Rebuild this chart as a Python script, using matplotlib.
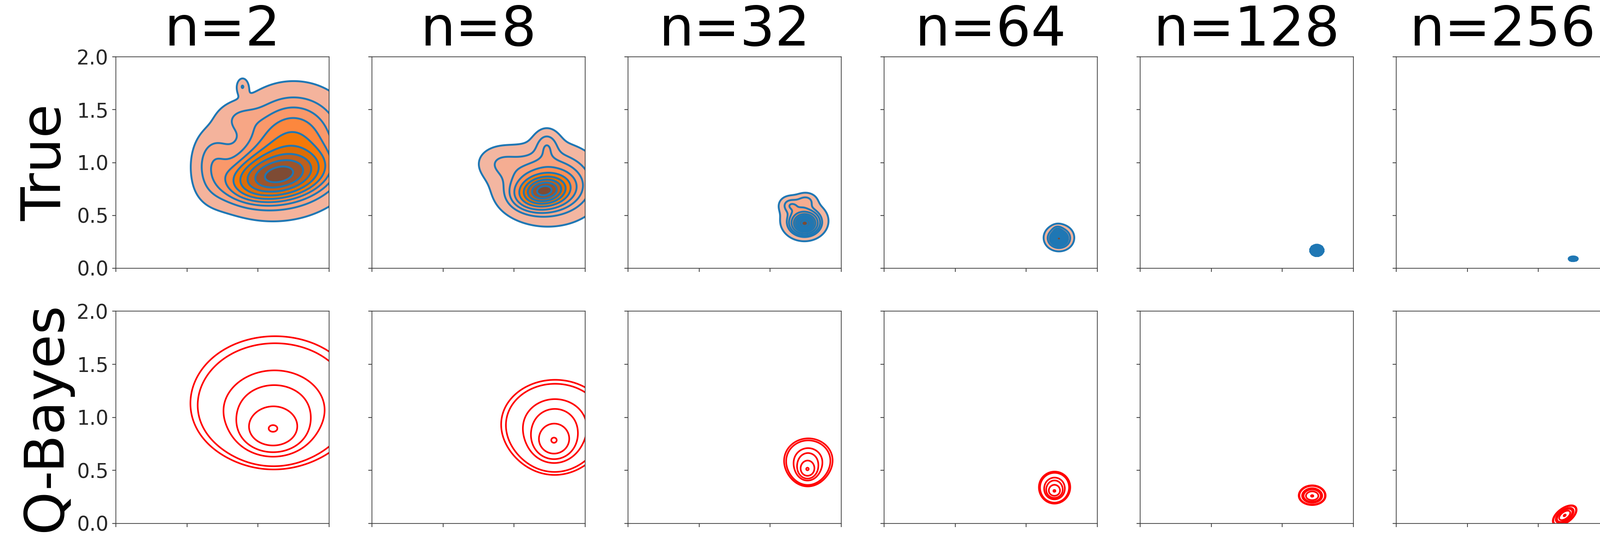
import numpy as np
import matplotlib
matplotlib.use("Agg")
import matplotlib.pyplot as plt
from matplotlib.colors import ListedColormap, to_rgb
from seaborn.external import husl

sizes = [2, 8, 32, 64, 128, 256]
row_names = ["True", "Q-Bayes"]
x_ticks = [0.0, 0.5, 1.0, 1.5]
y_ticks = [0.0, 0.5, 1.0, 1.5, 2.0]

# "True" row: gaussian pieces (panel index, centre, spread, corr, weight)
true_panel = [0, 0, 0, 0, 0, 0, 1, 1, 1, 1, 2, 2, 2, 2, 3, 3, 3, 4, 5]
true_cx = [1.13, 1.17, 1.25, 0.68, 0.86, 0.89, 1.21, 1.24, 0.90, 1.23, 1.243, 1.24, 1.14, 1.25, 1.23, 1.23, 1.22, 1.243, 1.245]
true_cy = [0.87, 0.92, 1.32, 1.00, 1.42, 1.72, 0.73, 0.80, 1.00, 1.17, 0.424, 0.45, 0.60, 0.64, 0.28, 0.29, 0.36, 0.169, 0.09]
true_sx = [0.19, 0.25, 0.22, 0.09, 0.10, 0.025, 0.10, 0.19, 0.10, 0.055, 0.045, 0.085, 0.045, 0.045, 0.030, 0.050, 0.02, 0.019, 0.013]
true_sy = [0.13, 0.23, 0.24, 0.20, 0.10, 0.05, 0.085, 0.19, 0.10, 0.09, 0.050, 0.095, 0.05, 0.045, 0.035, 0.060, 0.025, 0.022, 0.009]
true_rho = [0.3, 0.1, 0.0, 0.0, 0.0, 0.0, 0.15, 0.0, 0.0, 0.0, 0.0, 0.0, 0.0, 0.0, 0.0, 0.0, 0.0, 0.0, 0.0]
true_w = [0.30, 0.38, 0.25, 0.045, 0.015, 0.0025, 0.38, 0.45, 0.03, 0.022, 0.45, 0.35, 0.05, 0.04, 0.45, 0.50, 0.03, 1.0, 1.0]

# "Q-Bayes" row
qb_panel = [0, 0, 0, 1, 1, 1, 2, 2, 2, 3, 3, 3, 4, 4, 5]
qb_cx = [1.105, 1.11, 1.12, 1.28, 1.285, 1.29, 1.262, 1.264, 1.27, 1.198, 1.198, 1.20, 1.21, 1.21, 1.185]
qb_cy = [0.88, 1.02, 1.20, 0.775, 0.86, 0.95, 0.508, 0.55, 0.60, 0.303, 0.322, 0.35, 0.255, 0.27, 0.076]
qb_sx = [0.11, 0.21, 0.30, 0.068, 0.13, 0.19, 0.031, 0.058, 0.085, 0.025, 0.040, 0.050, 0.032, 0.036, 0.030]
qb_sy = [0.11, 0.20, 0.30, 0.085, 0.17, 0.20, 0.043, 0.085, 0.100, 0.030, 0.055, 0.065, 0.028, 0.036, 0.034]
qb_rho = [0.0, 0.0, 0.0, 0.0, 0.0, 0.0, 0.0, 0.0, 0.0, 0.0, 0.0, 0.0, 0.0, 0.0, 0.55]
qb_w = [0.30, 0.35, 0.35, 0.30, 0.35, 0.35, 0.30, 0.35, 0.35, 0.30, 0.35, 0.35, 0.5, 0.5, 1.0]

# contour levels: enclosed mass for the KDE row, fraction of the peak for Q-Bayes
true_mass = [0.95, 0.844, 0.733, 0.622, 0.511, 0.4, 0.289, 0.178, 0.067, 0.0]
qb_frac = [0.02, 0.03, 0.11, 0.2, 0.43, 0.97]


def density(k, pid, cx, cy, sx, sy, rho, w, n=700):
    sel = [i for i, p in enumerate(pid) if p == k]
    x0 = min(cx[i] - 5 * sx[i] for i in sel)
    x1 = max(cx[i] + 5 * sx[i] for i in sel)
    y0 = min(cy[i] - 5 * sy[i] for i in sel)
    y1 = max(cy[i] + 5 * sy[i] for i in sel)
    X, Y = np.meshgrid(np.linspace(x0, x1, n), np.linspace(y0, y1, n))
    Z = np.zeros_like(X)
    for i in sel:
        dx = (X - cx[i]) / sx[i]
        dy = (Y - cy[i]) / sy[i]
        r = rho[i]
        q = (dx * dx - 2 * r * dx * dy + dy * dy) / (1 - r * r)
        Z += w[i] * np.exp(-0.5 * q) / (sx[i] * sy[i] * np.sqrt(1 - r * r))
    return X, Y, Z


def iso_levels(Z, mass):
    v = np.sort(Z.ravel())[::-1]
    c = np.cumsum(v) / v.sum()
    idx = np.clip(np.searchsorted(c, mass), 0, v.size - 1)
    return v[idx]


def seaborn_cmap(color):
    # same ramp seaborn builds for a filled kdeplot
    h, s, _ = husl.rgb_to_husl(*to_rgb(color))
    xx = np.linspace(-1, 1, int(1.15 * 256))[:256]
    ramp = np.zeros((256, 3))
    ramp[:, 0] = h
    ramp[:, 1] = s * np.cos(xx)
    ramp[:, 2] = np.linspace(35, 80, 256)
    cols = np.clip([husl.husl_to_rgb(*hsl) for hsl in ramp], 0, 1)
    return ListedColormap(cols[::-1])


orange_map = seaborn_cmap("#ff7f0e")

W, H = 3549, 1191
fig = plt.figure(figsize=(W / 100, H / 100), dpi=100)

rows_px = [(126, 595), (690, 1161)]
for r in range(2):
    top, bot = rows_px[r]
    for k, n in enumerate(sizes):
        left = 257 + 568 * k
        ax = fig.add_axes([left / W, 1 - bot / H, 473 / W, (bot - top) / H])
        if r == 0:
            X, Y, Z = density(k, true_panel, true_cx, true_cy, true_sx, true_sy, true_rho, true_w)
            lv = iso_levels(Z, true_mass)
            ax.contourf(X, Y, Z, levels=lv, cmap=orange_map)
            ax.contour(X, Y, Z, levels=lv[:-1], colors="#1f77b4", linewidths=3)
            ax.set_title(f"n={n}", fontsize=88, pad=11)
        else:
            X, Y, Z = density(k, qb_panel, qb_cx, qb_cy, qb_sx, qb_sy, qb_rho, qb_w)
            ax.contour(X, Y, Z, levels=np.array(qb_frac) * Z.max(), colors="red", linewidths=2.6)
        ax.set_xlim(0, 1.5)
        ax.set_ylim(0, 2)
        ax.set_xticks(x_ticks)
        ax.set_yticks(y_ticks)
        ax.tick_params(labelbottom=False, labelleft=(k == 0), labelsize=32,
                       length=6, width=1.2, pad=6, colors="0.2", labelcolor="0.15")
        for sp in ax.spines.values():
            sp.set_linewidth(1.2)
            sp.set_color("0.25")
        if k == 0:
            ax.set_ylabel(row_names[r], fontsize=88, labelpad=7)

fig.savefig("out.png", dpi=100)
